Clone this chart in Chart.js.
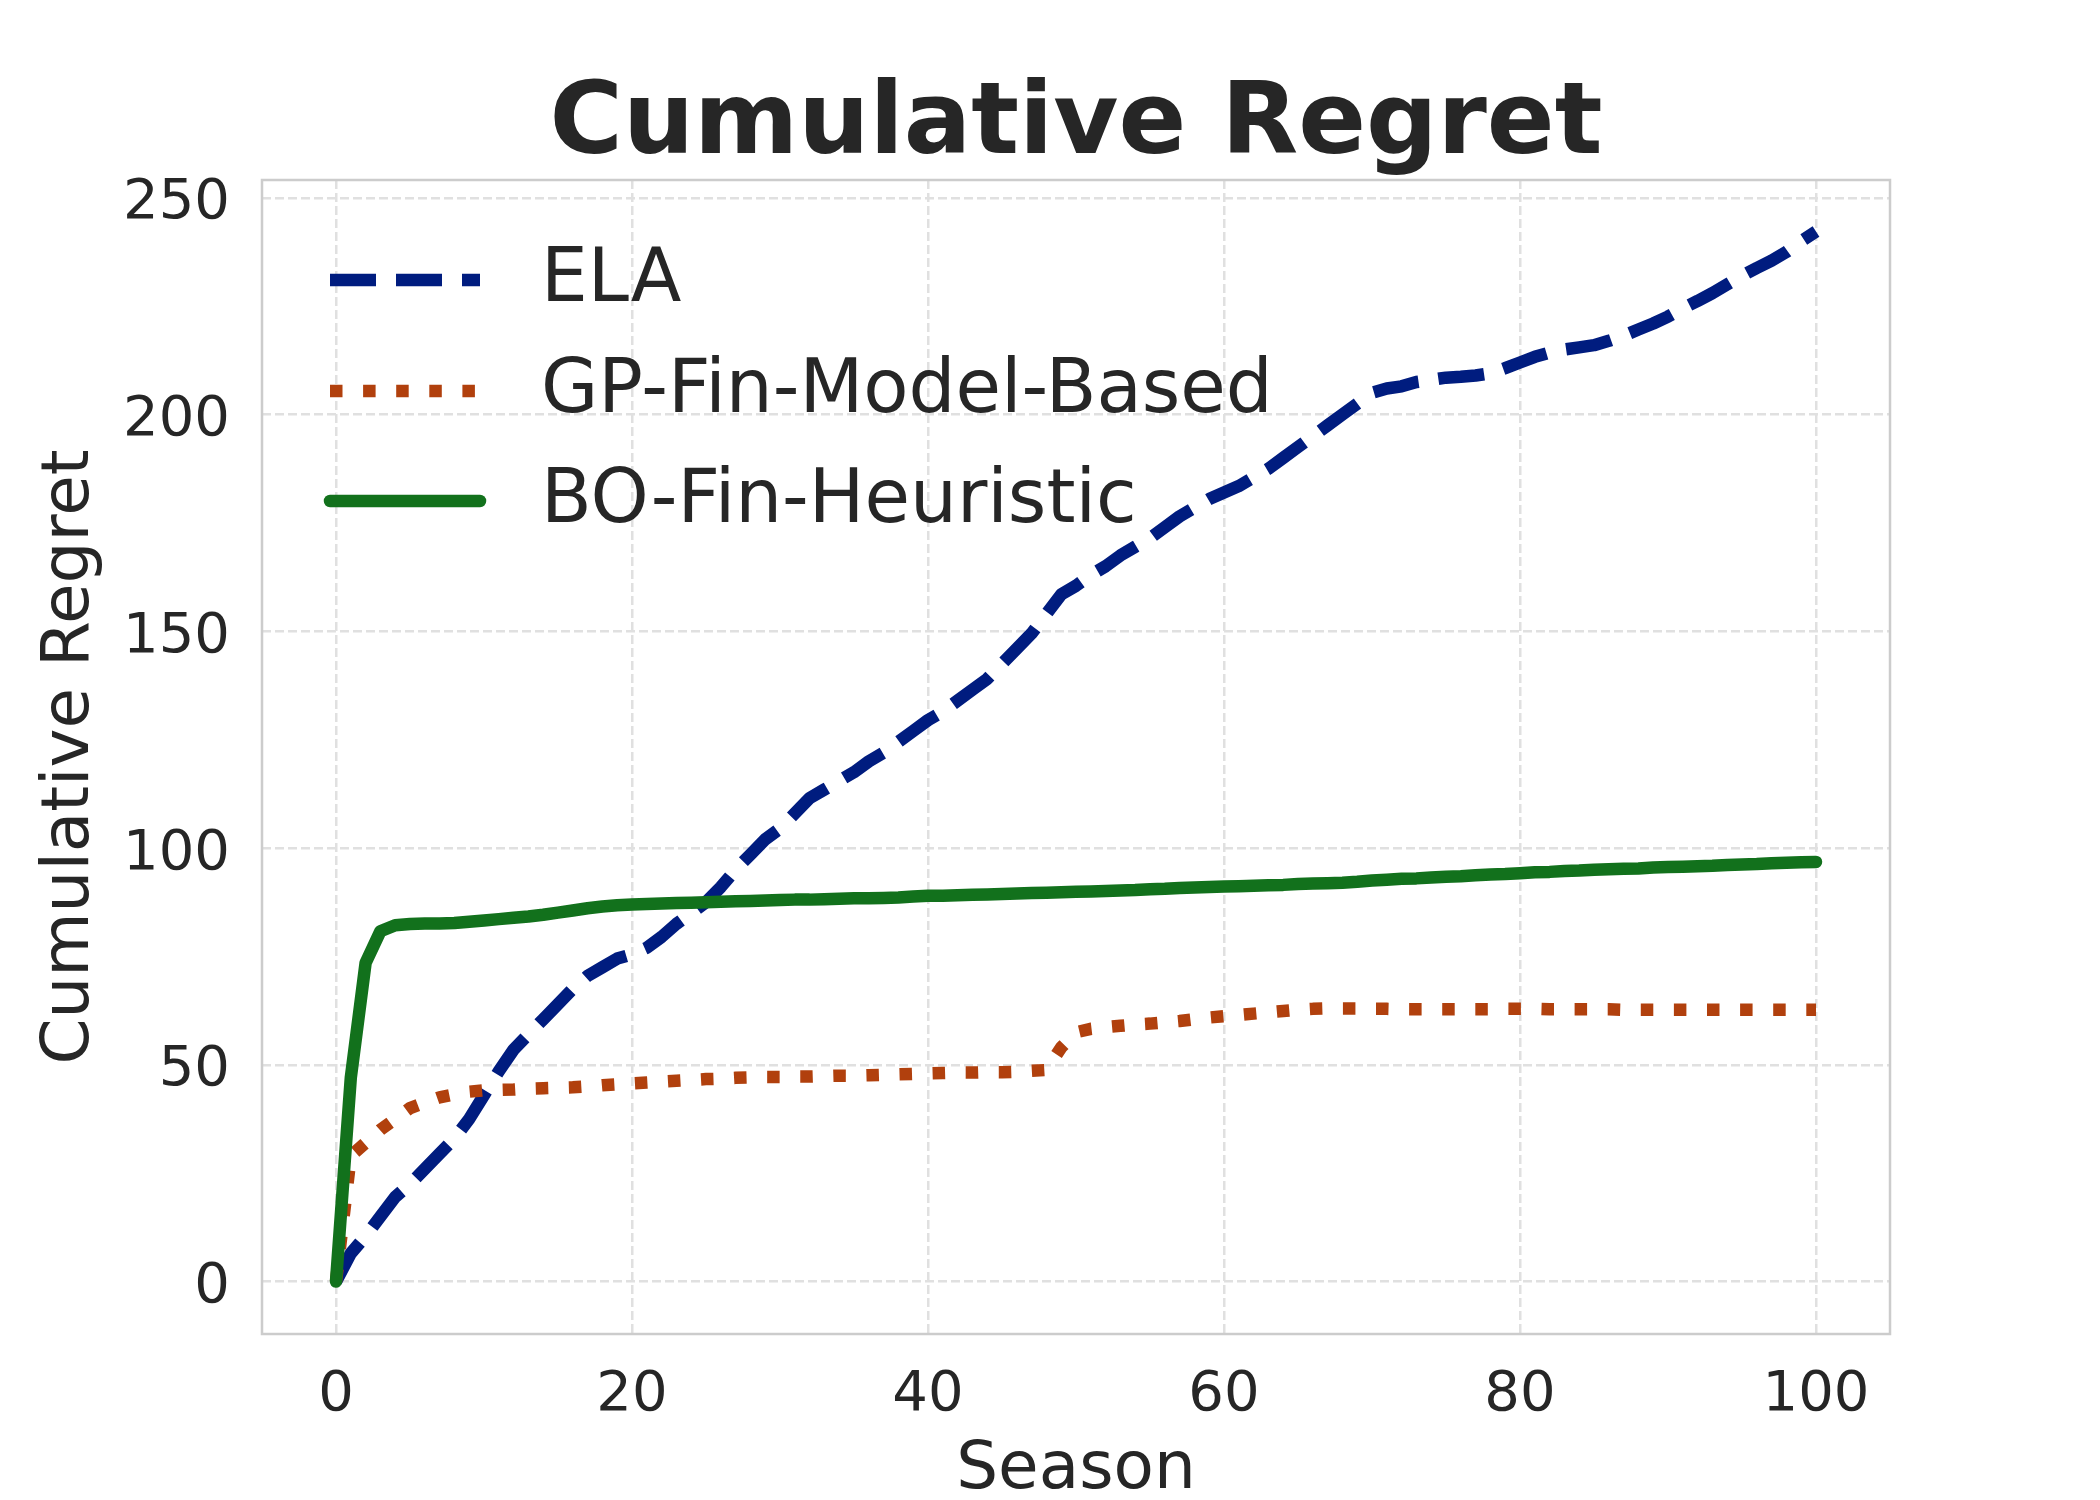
<!DOCTYPE html>
<html>
<head>
<meta charset="utf-8">
<script src="https://cdn.jsdelivr.net/npm/chart.js@4.4.1/dist/chart.umd.min.js"></script>
<style>
	html, body { margin: 0; padding: 0; background: #ffffff; }
	#wrap { width: 2100px; height: 1500px; }
</style>
</head>
<body>
<div id="wrap"><canvas id="regret" width="2100" height="1500"></canvas></div>
<script>
	// seasons 0..100 on the x axis
	var seasons = [];
	for (var s = 0; s <= 100; s++) seasons.push(s);

	var seriesNames = ["ELA", "GP-Fin-Model-Based", "BO-Fin-Heuristic"];

	var elaRegret = [
		0, 6.5, 10.5, 15, 19.5, 22.5, 26, 29.5, 33, 37.5,
		43, 48.5, 53.5, 57, 60.5, 64, 67.5, 70.5, 72.5, 74.5,
		75.5, 77, 79.5, 82.5, 85, 87.5, 91, 95, 98.5, 102,
		104.5, 108, 111.5, 113.5, 115.5, 117.5, 120, 122, 124.5, 127,
		129.5, 131.5, 134, 136.5, 139, 142.5, 146, 149.5, 154, 158.5,
		160.5, 163, 165, 167.5, 169.5, 171.5, 174, 176.5, 178.5, 180.5,
		182, 183.5, 185.5, 187.5, 190, 192.5, 195, 197.5, 200, 202.5,
		205, 206, 206.5, 207.5, 208, 208.5, 208.7, 209, 209.5, 210.7,
		212, 213.3, 214.3, 215, 215.5, 216, 217, 218.2, 219.6, 221,
		222.6, 224.5, 226.2, 228, 230, 232, 233.8, 235.5, 237.5, 240,
		242.2
	];
	var gpRegret = [
		0, 29, 32, 35, 37.5, 40, 41.3, 42.5, 43.2, 43.8,
		44.1, 44.2, 44.3, 44.5, 44.6, 44.7, 44.8, 45.0, 45.3, 45.5,
		45.7, 45.9, 46.1, 46.3, 46.5, 46.7, 46.8, 47.0, 47.1, 47.2,
		47.2, 47.3, 47.3, 47.4, 47.5, 47.5, 47.6, 47.7, 47.8, 47.9,
		48.0, 48.1, 48.2, 48.2, 48.3, 48.3, 48.4, 48.6, 48.8, 54.0,
		57.5, 58.3, 58.7, 59.0, 59.3, 59.5, 59.8, 60.1, 60.5, 60.9,
		61.2, 61.5, 61.8, 62.1, 62.4, 62.7, 62.9, 63.0, 63.0, 63.0,
		62.9, 62.9, 62.8, 62.8, 62.8, 62.8, 62.8, 62.8, 62.8, 62.9,
		62.9, 62.9, 62.8, 62.8, 62.8, 62.8, 62.8, 62.7, 62.7, 62.7,
		62.7, 62.7, 62.7, 62.7, 62.7, 62.7, 62.7, 62.7, 62.7, 62.7,
		62.7
	];
	var boRegret = [
		0, 47, 73.5, 80.8, 82.2, 82.5, 82.6, 82.6, 82.7, 83.0,
		83.3, 83.6, 83.9, 84.2, 84.6, 85.1, 85.6, 86.1, 86.5, 86.8,
		87.0, 87.1, 87.2, 87.3, 87.4, 87.5, 87.6, 87.7, 87.8, 87.9,
		88.0, 88.1, 88.1, 88.2, 88.3, 88.4, 88.4, 88.5, 88.6, 88.8,
		89.0, 89.0, 89.1, 89.2, 89.3, 89.4, 89.5, 89.6, 89.7, 89.8,
		89.9, 90.0, 90.1, 90.2, 90.3, 90.5, 90.6, 90.8, 90.9, 91.0,
		91.1, 91.2, 91.3, 91.4, 91.5, 91.7, 91.8, 91.9, 92.0, 92.2,
		92.5, 92.7, 92.9, 93.0, 93.2, 93.4, 93.5, 93.7, 93.9, 94.0,
		94.2, 94.4, 94.5, 94.7, 94.8, 95.0, 95.1, 95.2, 95.3, 95.5,
		95.6, 95.7, 95.8, 95.9, 96.1, 96.2, 96.3, 96.5, 96.6, 96.7,
		96.8
	];

	var xTicks = [0, 20, 40, 60, 80, 100];
	var yTicks = [0, 50, 100, 150, 200, 250];

	var FONT = "'DejaVu Sans', 'Liberation Sans', sans-serif";
	var TEXT = "#262626";
	var LW = 12.5;

	function toPoints(vals) {
		var pts = [];
		for (var i = 0; i < vals.length; i++) pts.push({x: seasons[i], y: vals[i]});
		return pts;
	}

	// legend drawn inside the plot, top left, like matplotlib
	var innerLegend = {
		id: "innerLegend",
		afterDatasetsDraw: function(chart) {
			var ctx = chart.ctx, area = chart.chartArea;
			var rows = [100, 211, 321];
			ctx.save();
			chart.data.datasets.forEach(function(ds, i) {
				var y = area.top + rows[i];
				ctx.beginPath();
				ctx.lineWidth = ds.borderWidth;
				ctx.strokeStyle = ds.borderColor;
				ctx.lineCap = ds.borderCapStyle || "butt";
				ctx.setLineDash(ds.borderDash || []);
				ctx.moveTo(area.left + 68, y);
				ctx.lineTo(area.left + 218, y);
				ctx.stroke();
				ctx.setLineDash([]);
				ctx.fillStyle = TEXT;
				ctx.font = "74px " + FONT;
				ctx.textAlign = "left";
				ctx.textBaseline = "middle";
				ctx.fillText(ds.label, area.left + 279, y + 2);
			});
			ctx.restore();
		},
		afterDraw: function(chart) {
			var ctx = chart.ctx, area = chart.chartArea;
			ctx.save();
			ctx.strokeStyle = "#cccccc";
			ctx.lineWidth = 2.5;
			ctx.strokeRect(area.left, area.top, area.right - area.left, area.bottom - area.top);
			ctx.restore();
		}
	};

	var cfg = {
		type: "line",
		data: {
			datasets: [
				{
					label: seriesNames[0],
					data: toPoints(elaRegret),
					borderColor: "#001c7f",
					borderWidth: LW,
					borderDash: [46, 20],
					borderCapStyle: "butt",
					borderJoinStyle: "round",
					pointRadius: 0,
					fill: false,
					order: 2
				},
				{
					label: seriesNames[1],
					data: toPoints(gpRegret),
					borderColor: "#b1400d",
					borderWidth: LW,
					borderDash: [12.5, 20.6],
					borderCapStyle: "butt",
					borderJoinStyle: "round",
					pointRadius: 0,
					fill: false,
					order: 1
				},
				{
					label: seriesNames[2],
					data: toPoints(boRegret),
					borderColor: "#12711c",
					borderWidth: LW,
					borderCapStyle: "round",
					borderJoinStyle: "round",
					pointRadius: 0,
					fill: false,
					order: 0
				}
			]
		},
		options: {
			responsive: false,
			animation: false,
			devicePixelRatio: 1,
			layout: { padding: { left: 0, right: 210, top: 0, bottom: 0 } },
			plugins: {
				legend: { display: false },
				tooltip: { enabled: false },
				title: {
					display: true,
					fullSize: false,
					text: "Cumulative Regret",
					color: TEXT,
					font: { family: FONT, size: 100, weight: "bold", lineHeight: 1.05 },
					padding: { top: 75, bottom: 0 }
				}
			},
			scales: {
				x: {
					type: "linear",
					min: -5,
					max: 105,
					border: { display: false, dash: [9, 4] },
					grid: { color: "#e0e0e0", lineWidth: 2.5, drawTicks: false },
					ticks: {
						color: TEXT,
						font: { family: FONT, size: 56 },
						padding: 28,
						maxRotation: 0
					},
					title: {
						display: true,
						text: "Season",
						color: TEXT,
						font: { family: FONT, size: 66 },
						padding: { top: 0, bottom: -10 }
					},
					afterBuildTicks: function(scale) {
						scale.ticks = xTicks.map(function(v) { return {value: v}; });
					},
					afterFit: function(scale) { scale.height = 166; }
				},
				y: {
					type: "linear",
					min: -12.1,
					max: 254.1,
					border: { display: false, dash: [9, 4] },
					grid: { color: "#e0e0e0", lineWidth: 2.5, drawTicks: false },
					ticks: {
						color: TEXT,
						font: { family: FONT, size: 56 },
						padding: 32,
						labelOffset: 6
					},
					title: {
						display: true,
						text: "Cumulative Regret",
						color: TEXT,
						font: { family: FONT, size: 66 },
						padding: { top: 31, bottom: 0 }
					},
					afterBuildTicks: function(scale) {
						scale.ticks = yTicks.map(function(v) { return {value: v}; });
					},
					afterFit: function(scale) { scale.width = 262; }
				}
			}
		},
		plugins: [innerLegend]
	};

	var regretChart = new Chart(document.getElementById("regret").getContext("2d"), cfg);
</script>
</body>
</html>
